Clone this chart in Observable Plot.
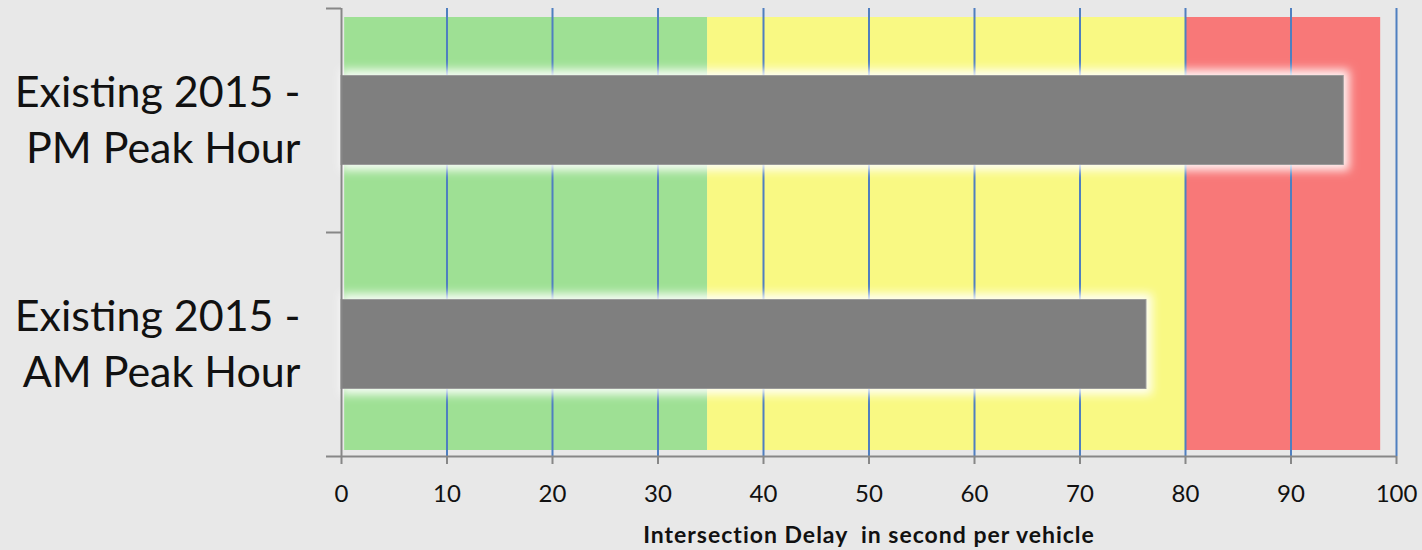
<!DOCTYPE html>
<html>
<head>
<meta charset="utf-8">
<script src="https://cdn.jsdelivr.net/npm/d3@7"></script>
<script src="https://cdn.jsdelivr.net/npm/@observablehq/plot@0.6"></script>
<style>
  html, body { margin: 0; padding: 0; background: #e8e8e8; }
  #chart { width: 1422px; height: 550px; }
</style>
</head>
<body>
<div id="chart"></div>
<script>
// ---- data ----
const categories = ["Existing 2015 - AM Peak Hour", "Existing 2015 - PM Peak Hour"]; // bottom to top
const labelLines = ["Existing 2015 -\nAM Peak Hour", "Existing 2015 -\nPM Peak Hour"];
const delays = [76.3, 95];

const bandNames = ["LOS A-C", "LOS D-E", "LOS F"];
const bandStart = [0.3, 34.7, 80];
const bandEnd = [34.7, 80, 98.5];
const bandColors = ["#9ee094", "#f9f983", "#f87878"];

const xTicks = [0, 10, 20, 30, 40, 50, 60, 70, 80, 90, 100];
const gridTicks = [10, 20, 30, 40, 50, 60, 70, 80, 90, 100];
const yTicks = [0, 1, 2];
const axisTitle = "Intersection Delay  in second per vehicle";

// ---- tables ----
const rows = categories.map((c, i) => ({cat: c, label: labelLines[i], delay: delays[i], y1: i, y2: i + 1, yc: i + 0.5}));
const bands = bandNames.map((n, i) => ({name: n, x1: bandStart[i], x2: bandEnd[i], color: bandColors[i]}));

const axisGray = "#878787";
const barInset = 67.5;

const plot = Plot.plot({
  width: 1422,
  height: 550,
  marginLeft: 341,
  marginRight: 26,
  marginTop: 8,
  marginBottom: 94,
  style: {background: "#e8e8e8", fontFamily: "Lato, 'Open Sans', sans-serif", overflow: "visible"},
  x: {domain: [0, 100], axis: null},
  y: {domain: [0, 2], axis: null},
  marks: [
    Plot.rect(bands, {x1: "x1", x2: "x2", fill: "color", insetTop: 9, insetBottom: 6}),
    Plot.ruleX(gridTicks, {stroke: "#4f7fc0", strokeWidth: 2}),
    Plot.rect(rows, {x1: 0, x2: "delay", y1: "y1", y2: "y2", fill: "white", fillOpacity: 0.9,
      insetTop: barInset - 6, insetBottom: barInset - 6, insetRight: -6, ariaDescription: "glow"}),
    Plot.rect(rows, {x1: 0, x2: "delay", y1: "y1", y2: "y2", fill: "#7f7f7f", stroke: "#9a9a9a", strokeWidth: 1,
      insetTop: barInset, insetBottom: barInset}),
    Plot.ruleX([0], {stroke: axisGray, strokeWidth: 2}),
    Plot.ruleY([0], {stroke: axisGray, strokeWidth: 2}),
    Plot.axisX(xTicks, {anchor: "bottom", tickSize: 8, stroke: axisGray, strokeWidth: 2, tickPadding: 20,
      fontSize: 24, fill: "#111", label: null}),
    Plot.axisY(yTicks, {anchor: "left", tickSize: 15, stroke: axisGray, strokeWidth: 2, tickFormat: () => "", label: null}),
    Plot.text(rows, {x: 0, y: "yc", text: "label", dx: -41, dy: -3, textAnchor: "end", fontSize: 43, lineHeight: 1.3, fill: "#111"}),
    Plot.text([axisTitle], {frameAnchor: "bottom", lineAnchor: "middle", dy: 79, fontSize: 23, fontWeight: "bold", fill: "#111"})
  ]
});

// soft halo behind the bars (SVG blur filter)
const ns = "http://www.w3.org/2000/svg";
const defs = document.createElementNS(ns, "defs");
const filter = document.createElementNS(ns, "filter");
filter.setAttribute("id", "barGlow");
filter.setAttribute("filterUnits", "userSpaceOnUse");
filter.setAttribute("x", "0"); filter.setAttribute("y", "0");
filter.setAttribute("width", "1422"); filter.setAttribute("height", "550");
const blur = document.createElementNS(ns, "feGaussianBlur");
blur.setAttribute("stdDeviation", "5");
filter.appendChild(blur);
defs.appendChild(filter);
plot.insertBefore(defs, plot.firstChild);
const glow = plot.querySelector('g[aria-description="glow"]');
if (glow) glow.setAttribute("filter", "url(#barGlow)");
plot.querySelectorAll("text").forEach(t => t.style.whiteSpace = "pre");
const title = Array.from(plot.querySelectorAll("text")).find(t => t.textContent === axisTitle);
if (title) title.style.letterSpacing = "1px";

document.getElementById("chart").appendChild(plot);
</script>
</body>
</html>
